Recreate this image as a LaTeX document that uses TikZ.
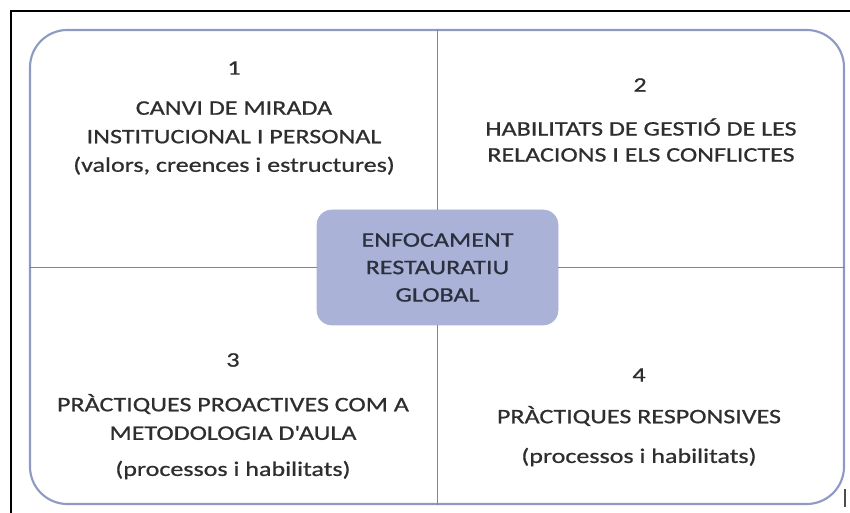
\documentclass[tikz,border=0pt]{standalone}
\usepackage{fontspec}
\setmainfont{Carlito}[FakeStretch=1.26, FakeBold=0.8]
\definecolor{bordeazul}{HTML}{8F9AC4}
\definecolor{lineagris}{HTML}{7C84A6}
\definecolor{cajaazul}{HTML}{AAB3D7}
\definecolor{textogris}{HTML}{2E2E2E}
\definecolor{textocaja}{HTML}{2A303E}

\begin{document}
\begin{tikzpicture}[x=0.75pt, y=-0.75pt,
        % Estilo para el marco redondeado exterior
        marco/.style={draw=bordeazul, line width=1.6pt, rounded corners=28pt,
            minimum width=610.5pt, minimum height=355.5pt, inner sep=0pt},
        % Estilo para las líneas que dividen los cuadrantes
        divisoria/.style={draw=lineagris, line width=1.1pt},
        % Estilo para la caja central
        centro/.style={fill=cajaazul, draw=cajaazul, rounded corners=11pt,
            minimum width=180.75pt, minimum height=86.25pt, align=center,
            text=textocaja, font=\fontsize{15.5}{20.6}\selectfont},
        % Estilo para los números de cada cuadrante
        num/.style={text=textogris, font=\fontsize{15.5}{18}\selectfont},
        % Estilo para los textos de cada cuadrante
        bloc/.style={text=textogris, align=center, inner sep=0pt,
            font=\fontsize{15.5}{21.4}\selectfont}
    ]
        \useasboundingbox (0,0) rectangle (850,513);

        % --- Borde de la captura ---
        \draw[line width=1.1pt] (10,11) -- (850,11);
        \draw[line width=1.1pt] (11,11) -- (11,513);
        \draw[line width=1.5pt, black!70] (845,489) -- (845,507);

        % --- Marco y caja central ---
        \node[marco] (M) at (437,267) {};
        \node[centro] (C) at (437.5,267.5) {ENFOCAMENT\\RESTAURATIU\\GLOBAL};

        % --- Líneas divisorias ---
        \draw[divisoria] (C.north) -- (C.north |- M.north);
        \draw[divisoria] (C.south) -- (C.south |- M.south);
        \draw[divisoria] (C.west) -- (C.west -| M.west);
        \draw[divisoria] (C.east) -- (C.east -| M.east);

        % --- Cuadrante 1 ---
        \node[num] (n1) at (234,68) {1};
        \node[bloc] (t1) at (234,138) {CANVI DE MIRADA\\INSTITUCIONAL I PERSONAL\\(valors, creences i estructures)};

        % --- Cuadrante 2 ---
        \node[num] (n2) at (640,85) {2};
        \node[bloc, font=\fontsize{15.5}{19.5}\selectfont] (t2) at (641,140) {HABILITATS DE GESTIÓ DE LES\\RELACIONS I ELS CONFLICTES};

        % --- Cuadrante 3 ---
        \node[num] (n3) at (233,360) {3};
        \node[bloc] (t3) at (233,417) {PRÀCTIQUES PROACTIVES COM A\\METODOLOGIA D\textquotesingle AULA};
        \node[bloc] (s3) at (233,470) {(processos i habilitats)};

        % --- Cuadrante 4 ---
        \node[num] (n4) at (639,375) {4};
        \node[bloc] (t4) at (639,416) {PRÀCTIQUES RESPONSIVES};
        \node[bloc] (s4) at (639,457) {(processos i habilitats)};

    \end{tikzpicture}
\end{document}
